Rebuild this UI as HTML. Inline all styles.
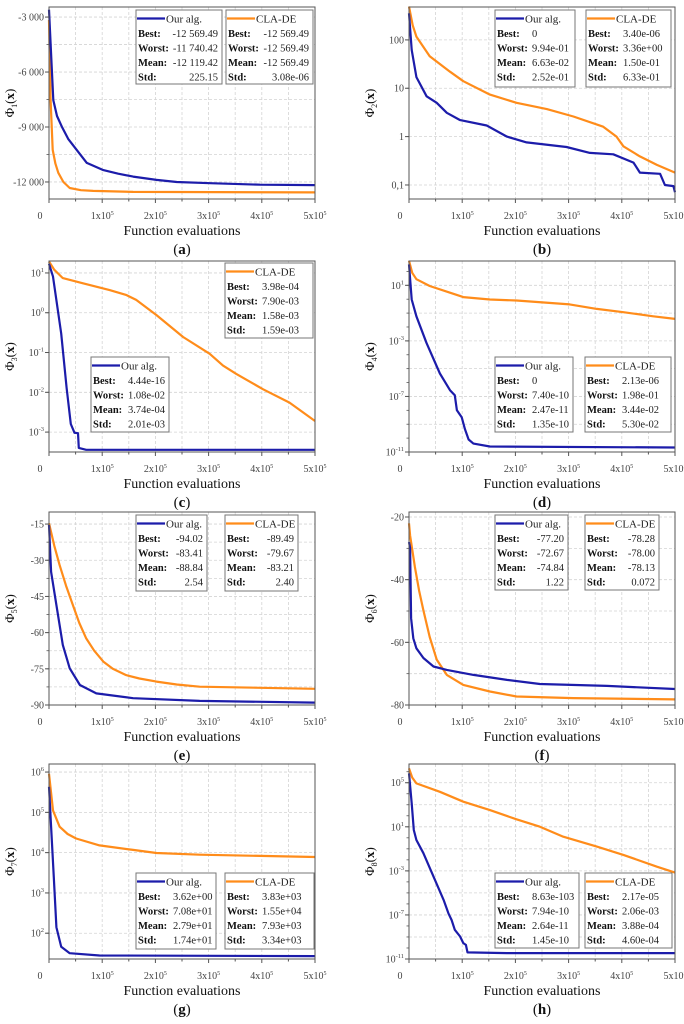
<!DOCTYPE html>
<html><head><meta charset="utf-8"><style>
html,body{margin:0;padding:0;background:#fff;width:684px;height:1024px;overflow:hidden}
svg, svg text{font-family:"Liberation Serif","DejaVu Serif",serif}
</style></head><body>
<svg id="fig" width="684" height="1024" viewBox="0 0 684 1024" font-family="Liberation Serif, serif"></svg>
<script>
// ---- data (x in units of 1e5 function evaluations) ----
const aBlueX=[0,0.05,0.08,0.15,0.24,0.36,0.52,0.71,1.02,1.3,1.58,2.02,2.4,3.03,3.97,5];
const aBlueY=[-2600,-5710,-7530,-8400,-8980,-9650,-10250,-10960,-11350,-11550,-11710,-11890,-12000,-12070,-12150,-12170];
const aOrangeX=[0,0.03,0.07,0.12,0.175,0.27,0.39,0.6,0.83,1.58,5];
const aOrangeY=[-3160,-7530,-10250,-11000,-11500,-12000,-12330,-12450,-12490,-12545,-12570];
const bBlueX=[0,0.05,0.14,0.33,0.52,0.71,0.96,1.46,1.84,2.21,2.96,3.4,3.84,4.22,4.34,4.72,4.81,4.97,5];
const bBlueY=[355,62,17,6.8,5,3.1,2.2,1.7,1.0,0.76,0.61,0.46,0.43,0.29,0.18,0.17,0.10,0.095,0.071];
const bOrangeX=[0,0.07,0.14,0.39,0.77,1.02,1.52,2.02,2.59,3.09,3.65,3.9,4.03,4.34,4.66,5];
const bOrangeY=[490,200,117,46,22,14,7.4,5.0,3.7,2.6,1.6,1.0,0.63,0.39,0.26,0.18];
const cBlueX=[0,0.075,0.23,0.33,0.41,0.48,0.545,0.56,0.7,5];
const cBlueY=[17,8.1,0.3,0.013,0.0016,0.00096,0.00094,0.0004,0.00036,0.00036];
const cOrangeX=[0,0.1,0.26,0.64,1.14,1.45,1.64,2.02,2.52,3.02,3.27,3.52,4.02,4.52,5];
const cOrangeY=[19.4,12,7.4,5.5,3.7,2.8,2.1,0.87,0.245,0.093,0.047,0.029,0.012,0.0055,0.0019];
const dBlueX=[0,0.05,0.14,0.33,0.58,0.77,0.86,0.9,0.99,1.05,1.12,1.21,1.52,5];
const dBlueY=[3.2e2,0.95,5.9e-2,6.8e-4,4.5e-6,2.8e-7,1.2e-7,1e-8,3.2e-9,4.5e-10,8e-11,4e-11,2.5e-11,2.1e-11];
const dOrangeX=[0,0.06,0.14,0.39,0.77,1.02,1.52,2.02,3.02,3.53,4.03,4.59,5];
const dOrangeY=[5.9e2,80,27.5,8.9,2.95,1.41,0.95,0.81,0.42,0.2,0.115,5.9e-2,3.8e-2];
const eBlueX=[0,0.04,0.14,0.26,0.39,0.58,0.89,1.58,2.83,5];
const eBlueY=[-15.4,-34.8,-48.6,-65.1,-74.8,-81.7,-85.2,-87.2,-88.3,-89.0];
const eOrangeX=[0,0.1,0.2,0.32,0.45,0.57,0.7,0.85,1.02,1.2,1.45,1.7,2.02,2.4,2.83,5];
const eOrangeY=[-14.7,-24,-32,-40.5,-48.6,-56,-62.4,-67.5,-72,-75,-77.6,-79,-80.3,-81.5,-82.4,-83.3];
const fBlueX=[0,0.02,0.04,0.08,0.14,0.27,0.46,0.71,1.21,1.84,2.46,3.72,5];
const fBlueY=[-28,-29.9,-52.3,-58.7,-61.9,-65,-67.7,-68.8,-70.4,-72,-73.3,-73.9,-74.9];
const fOrangeX=[0,0.02,0.11,0.19,0.27,0.39,0.52,0.71,1.02,1.52,2.02,3.09,5];
const fOrangeY=[-22,-25.9,-36,-43.5,-49.8,-58.3,-65.5,-70.4,-73.6,-75.7,-77.3,-77.8,-78.2];
const gBlueX=[0,0.04,0.09,0.14,0.23,0.39,0.95,5];
const gBlueY=[4.3e5,4.4e4,2.45e3,141,46,32,28,27];
const gOrangeX=[0,0.075,0.2,0.35,0.51,0.95,1.58,2.02,2.83,5];
const gOrangeY=[9.1e5,1.12e5,4.4e4,2.9e4,2.24e4,1.51e4,1.17e4,9.8e3,8.9e3,7.8e3];
const hBlueX=[0,0.05,0.09,0.14,0.27,0.46,0.65,0.74,0.8,0.86,0.96,1.02,1.07,1.1,1.84,5];
const hBlueY=[7.1e5,1.35e3,5.1,0.63,4e-2,3e-4,2.3e-6,1.4e-7,3.5e-8,4.5e-9,1.1e-9,2.8e-10,1.9e-10,4e-11,3.4e-11,3.4e-11];
const hOrangeX=[0,0.06,0.14,0.58,1.02,1.52,2.02,2.46,2.9,3.53,4.03,4.66,5];
const hOrangeY=[2e6,3e5,8.7e4,1.5e4,1.9e3,331,48,10.2,1.26,0.16,2.8e-2,2.4e-3,6.9e-4];
const xTickVals=[1,2,3,4,5];
const legendRows=['Best:','Worst:','Mean:','Std:'];
const aStats1=['-12 569.49','-11 740.42','-12 119.42','225.15'], aStats2=['-12 569.49','-12 569.49','-12 569.49','3.08e-06'];
const bStats1=['0','9.94e-01','6.63e-02','2.52e-01'], bStats2=['3.40e-06','3.36e+00','1.50e-01','6.33e-01'];
const cStats1=['4.44e-16','1.08e-02','3.74e-04','2.01e-03'], cStats2=['3.98e-04','7.90e-03','1.58e-03','1.59e-03'];
const dStats1=['0','7.40e-10','2.47e-11','1.35e-10'], dStats2=['2.13e-06','1.98e-01','3.44e-02','5.30e-02'];
const eStats1=['-94.02','-83.41','-88.84','2.54'], eStats2=['-89.49','-79.67','-83.21','2.40'];
const fStats1=['-77.20','-72.67','-74.84','1.22'], fStats2=['-78.28','-78.00','-78.13','0.072'];
const gStats1=['3.62e+00','7.08e+01','2.79e+01','1.74e+01'], gStats2=['3.83e+03','1.55e+04','7.93e+03','3.34e+03'];
const hStats1=['8.63e-103','7.94e-10','2.64e-11','1.45e-10'], hStats2=['2.17e-05','2.06e-03','3.88e-04','4.60e-04'];

const NS='http://www.w3.org/2000/svg';
const svg=document.getElementById('fig');
const BLUE='#1c1caa', ORANGE='#ff8c1a';
const FF='Liberation Serif, serif';
function mk(tag,attrs,parent){const e=document.createElementNS(NS,tag);for(const k in attrs)e.setAttribute(k,attrs[k]);if(tag==='text')e.setAttribute('font-family',FF);(parent||svg).appendChild(e);return e;}

const panels=[
 {id:'a',sub:'1',x0:49,top:7,bot:199,log:false,min:-12930,max:-2450,ticks:[-3000,-6000,-9000,-12000],tl:['-3 000','-6 000','-9 000','-12 000'],grid:[-3000,-4500,-6000,-7500,-9000,-10500,-12000],
  bx:aBlueX,by:aBlueY,ox:aOrangeX,oy:aOrangeY,L:[[136,10,86,74,BLUE,'Our alg.',aStats1,'r'],[226,10,87,74,ORANGE,'CLA-DE',aStats2,'r']]},
 {id:'b',sub:'2',x0:409,top:7,bot:199,log:true,min:Math.pow(10,-1.29),max:Math.pow(10,2.68),ticks:[100,10,1,0.1],tl:['100','10','1','0,1'],grid:[100,10,1,0.1],
  bx:bBlueX,by:bBlueY,ox:bOrangeX,oy:bOrangeY,L:[[495,10,80,77,BLUE,'Our alg.',bStats1,'l'],[586,10,85,77,ORANGE,'CLA-DE',bStats2,'l']]},
 {id:'c',sub:'3',x0:49,top:261,bot:452,log:true,min:Math.pow(10,-3.5),max:Math.pow(10,1.3),ticks:[10,1,0.1,0.01,0.001],tl:[['10','1'],['10','0'],['10','-1'],['10','-2'],['10','-3']],grid:[10,1,0.1,0.01,0.001],
  bx:cBlueX,by:cBlueY,ox:cOrangeX,oy:cOrangeY,L:[[91,357,78,75,BLUE,'Our alg.',cStats1,'l'],[225,263,88,75,ORANGE,'CLA-DE',cStats2,'l']]},
 {id:'d',sub:'4',x0:409,top:261,bot:452,log:true,min:1e-11,max:Math.pow(10,2.75),ticks:[10,1e-3,1e-7,1e-11],tl:[['10','1'],['10','-3'],['10','-7'],['10','-11']],grid:[10,1e-1,1e-3,1e-5,1e-7,1e-9],
  bx:dBlueX,by:dBlueY,ox:dOrangeX,oy:dOrangeY,L:[[495,357,78,75,BLUE,'Our alg.',dStats1,'l'],[585,357,86,75,ORANGE,'CLA-DE',dStats2,'l']]},
 {id:'e',sub:'5',x0:49,top:512,bot:705,log:false,min:-90,max:-10,ticks:[-15,-30,-45,-60,-75,-90],tl:['-15','-30','-45','-60','-75','-90'],grid:[-15,-22.5,-30,-37.5,-45,-52.5,-60,-67.5,-75,-82.5],
  bx:eBlueX,by:eBlueY,ox:eOrangeX,oy:eOrangeY,L:[[136,515,71,76,BLUE,'Our alg.',eStats1,'r'],[225,515,73,76,ORANGE,'CLA-DE',eStats2,'r']]},
 {id:'f',sub:'6',x0:409,top:512,bot:705,log:false,min:-80,max:-18.4,ticks:[-20,-40,-60,-80],tl:['-20','-40','-60','-80'],grid:[-20,-30,-40,-50,-60,-70],
  bx:fBlueX,by:fBlueY,ox:fOrangeX,oy:fOrangeY,L:[[495,515,73,75,BLUE,'Our alg.',fStats1,'r'],[585,515,74,75,ORANGE,'CLA-DE',fStats2,'r']]},
 {id:'g',sub:'7',x0:49,top:764,bot:959,log:true,min:Math.pow(10,1.36),max:Math.pow(10,6.2),ticks:[1e6,1e5,1e4,1e3,1e2],tl:[['10','6'],['10','5'],['10','4'],['10','3'],['10','2']],grid:[1e6,1e5,1e4,1e3,1e2],
  bx:gBlueX,by:gBlueY,ox:gOrangeX,oy:gOrangeY,L:[[136,873,80,76,BLUE,'Our alg.',gStats1,'l'],[225,873,89,76,ORANGE,'CLA-DE',gStats2,'l']]},
 {id:'h',sub:'8',x0:409,top:764,bot:959,log:true,min:1e-11,max:Math.pow(10,6.7),ticks:[1e5,10,1e-3,1e-7,1e-11],tl:[['10','5'],['10','1'],['10','-3'],['10','-7'],['10','-11']],grid:[1e5,1e3,10,1e-1,1e-3,1e-5,1e-7,1e-9],
  bx:hBlueX,by:hBlueY,ox:hOrangeX,oy:hOrangeY,L:[[495,873,84,75,BLUE,'Our alg.',hStats1,'l'],[585,873,87,75,ORANGE,'CLA-DE',hStats2,'l']]}
];
const W=266;

panels.forEach(p=>{
  const g=mk('g',{});
  
  
  const H=p.bot-p.top;
  const xs=v=>p.x0+v/5*W;
  const tr=v=>p.log?Math.log10(v):v;
  const ys=v=>p.top+(tr(p.max)-tr(v))/(tr(p.max)-tr(p.min))*H;
  for(let i=1;i<10;i++){const gx=xs(i*0.5);
    const l=mk('line',{x1:gx,x2:gx,y1:p.top,y2:p.bot,stroke:'#d4d4d4','stroke-width':0.8,'stroke-dasharray':'3,2'},g);
    
    }
  p.grid.forEach(v=>{const gy=ys(v);
    const l=mk('line',{x1:p.x0,x2:p.x0+W,y1:gy,y2:gy,stroke:'#d4d4d4','stroke-width':0.8,'stroke-dasharray':'3,2'},g);
    
    });
  [[p.ox,p.oy,ORANGE,'cla-de-line'],[p.bx,p.by,BLUE,'our-alg-line']].forEach(s=>{
    const pts=s[0].map((x,i)=>xs(x).toFixed(1)+','+ys(s[1][i]).toFixed(1)).join(' ');
    const pl=mk('polyline',{points:pts,fill:'none',stroke:s[2],'stroke-width':2.2,'stroke-linejoin':'round'},g);
    
    
  });
  const fr=mk('rect',{x:p.x0,y:p.top,width:W,height:H,fill:'none',stroke:'#555','stroke-width':1},g);
  
  
  for(let i=0;i<=10;i++){const tx=xs(i*0.5);
    mk('line',{x1:tx,x2:tx,y1:p.bot,y2:p.bot+(i%2?2.5:4),stroke:'#555','stroke-width':1},g);}
  const z=mk('text',{x:p.x0-9,y:p.bot+20,'font-size':10,fill:'#444','text-anchor':'middle'},g);
  z.textContent='0';
  
  
  xTickVals.forEach(v=>{
    const t=mk('text',{x:xs(v),y:p.bot+20,'font-size':10,fill:'#444','text-anchor':'middle'},g);
    
    
    t.appendChild(document.createTextNode(v+'x10'));
    const s=mk('tspan',{'font-size':6,dy:-4},t);s.textContent='5';
  });
  p.ticks.forEach((v,i)=>{const ty=ys(v);
    mk('line',{x1:p.x0-4,x2:p.x0,y1:ty,y2:ty,stroke:'#555','stroke-width':1},g);
    const t=mk('text',{x:p.x0-5,y:ty+3.5,'font-size':10,fill:'#444','text-anchor':'end'},g);
    
    
    const lab=p.tl[i];
    if(Array.isArray(lab)){t.appendChild(document.createTextNode(lab[0]));const s=mk('tspan',{'font-size':6.5,dy:-4.5},t);s.textContent=lab[1];}
    else t.textContent=lab;
  });
  if(p.log){const a=Math.ceil(Math.log10(p.min)),b=Math.floor(Math.log10(p.max));
    for(let e=a;e<=b;e++){const ty=ys(Math.pow(10,e));mk('line',{x1:p.x0-2.5,x2:p.x0,y1:ty,y2:ty,stroke:'#555','stroke-width':0.8},g);}}
  else{const st=(p.ticks[0]-p.ticks[1])/2;for(let v=p.ticks[p.ticks.length-1];v<=p.max;v+=st){const ty=ys(v);mk('line',{x1:p.x0-2.5,x2:p.x0,y1:ty,y2:ty,stroke:'#555','stroke-width':0.8},g);}}
  const cy=(p.top+p.bot)/2, tx=p.x0-35;
  const yt=mk('text',{x:tx,y:cy,'font-size':13,fill:'#111','text-anchor':'middle',transform:'rotate(-90 '+tx+' '+cy+')'},g);
  
  
  yt.appendChild(document.createTextNode('Φ'));
  const sb=mk('tspan',{'font-size':8,dy:3},yt);sb.textContent=p.sub;
  const rp=mk('tspan',{dy:-3},yt);rp.textContent='(';
  const bx=mk('tspan',{'font-weight':'bold'},yt);bx.textContent='x';
  const rp2=mk('tspan',{},yt);rp2.textContent=')';
  const xt=mk('text',{x:p.x0+W/2,y:p.bot+36,'font-size':14,fill:'#111','text-anchor':'middle'},g);
  xt.textContent='Function evaluations';
  
  
  const pl=mk('text',{x:p.x0+W/2,y:p.bot+55,'font-size':15,fill:'#111','text-anchor':'middle'},g);
  
  
  pl.appendChild(document.createTextNode('('));
  const bl=mk('tspan',{'font-weight':'bold'},pl);bl.textContent=p.id;
  pl.appendChild(document.createTextNode(')'));
  p.L.forEach(L=>{
    const [lx,ly,lw,lh,col,name,vals,al]=L;
    const lg=mk('g',{},g);
    
    
    mk('rect',{x:lx,y:ly,width:lw,height:lh,fill:'#fff',stroke:'#777','stroke-width':1},lg);
    mk('line',{x1:lx+1,x2:lx+29,y1:ly+8.5,y2:ly+8.5,stroke:col,'stroke-width':2.2},lg);
    const nt=mk('text',{x:lx+30,y:ly+12.5,'font-size':11,fill:'#222'},lg);nt.textContent=name;
    legendRows.forEach((r,i)=>{const yy=ly+27+i*14.5;
      const a=mk('text',{x:lx+2,y:yy,'font-size':10.5,'font-weight':'bold',fill:'#111'},lg);a.textContent=r;
      const v=mk('text',{x:al==='r'?lx+lw-4:lx+37,y:yy,'font-size':10.5,fill:'#222','text-anchor':al==='r'?'end':'start'},lg);v.textContent=vals[i];
    });
  });
});
</script>
</body></html>
